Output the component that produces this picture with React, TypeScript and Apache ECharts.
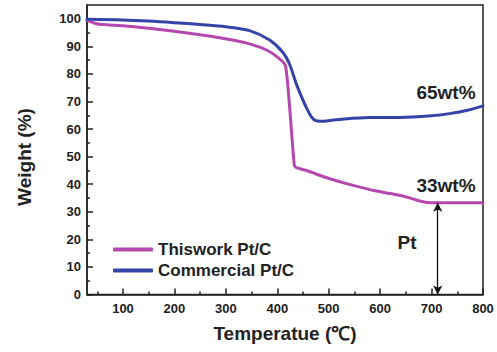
import React, { useEffect, useRef } from "react";
import * as echarts from "echarts";

const thisworkData: [number, number][] = [
  [30, 99.5], [45, 98.4], [60, 97.9], [100, 97.5], [150, 96.6], [200, 95.5],
  [250, 94.2], [313, 92.3], [346, 90.9], [380, 88.6], [405, 85.4], [416, 83.0],
  [424, 68], [433, 47], [437, 46], [460, 44.8], [490, 42.7], [520, 41.0],
  [553, 39.3], [590, 37.6], [620, 36.6], [650, 35.4], [670, 34.3], [690, 33.4],
  [720, 33.3], [800, 33.3],
];
const commercialData: [number, number][] = [
  [30, 99.8], [100, 99.6], [150, 99.2], [200, 98.6], [250, 97.9], [300, 97.1],
  [346, 95.7], [385, 92.3], [411, 87.8], [424, 83.5], [437, 76.4], [456, 68.0],
  [469, 63.8], [482, 62.8], [515, 63.4], [579, 64.2], [638, 64.2], [700, 64.8],
  [735, 65.6], [770, 66.8], [800, 68.4],
];
const xMajor = [100, 200, 300, 400, 500, 600, 700, 800];
const xMinor = [50, 150, 250, 350, 450, 550, 650, 750];
const yMajor = [0, 10, 20, 30, 40, 50, 60, 70, 80, 90, 100];
const yMinor = [5, 15, 25, 35, 45, 55, 65, 75, 85, 95];
const seriesNames = ["Thiswork Pt/C", "Commercial Pt/C"];
const ptArrowX = 712;
const ptResidue = 33.3;

const FONT = "'Liberation Sans', Arial, sans-serif";
const DARK = "#222";
const MAGENTA = "#B548AE";
const BLUE = "#3444A8";

export default function App() {
  const ref = useRef<HTMLDivElement>(null);
  useEffect(() => {
    if (!ref.current) return;
    const chart = echarts.init(ref.current, null, { renderer: "svg" });
    const axisCommon = {
      type: "value" as const,
      splitLine: { show: false },
    };
    chart.setOption({
      animation: false,
      backgroundColor: "#fff",
      textStyle: { fontFamily: FONT },
      grid: {
        left: 87, top: 5, right: 14, bottom: 57.5,
        show: true, borderColor: DARK, borderWidth: 1.5, backgroundColor: "transparent",
      },
      legend: {
        orient: "vertical",
        left: 108,
        top: 236,
        itemWidth: 40,
        itemHeight: 4,
        itemGap: 4,
        icon: "roundRect",
        data: seriesNames,
        textStyle: { fontFamily: FONT, fontSize: 17, fontWeight: "bold", color: DARK },
      },
      xAxis: [
        {
          ...axisCommon,
          min: 30, max: 800,
          axisLine: { show: true, lineStyle: { color: DARK, width: 1.5 } },
          axisTick: { show: true, inside: true, length: 6, customValues: xMajor, lineStyle: { color: DARK, width: 1.5 } },
          axisLabel: { customValues: xMajor, margin: 7, fontFamily: FONT, fontSize: 13, fontWeight: "bold", color: DARK },
        },
        {
          ...axisCommon,
          min: 30, max: 800, position: "bottom",
          axisLine: { show: false },
          axisTick: { show: true, inside: true, length: 3, customValues: xMinor, lineStyle: { color: DARK, width: 1.5 } },
          axisLabel: { show: false },
        },
      ],
      yAxis: [
        {
          ...axisCommon,
          min: 0, max: 105,
          axisLine: { show: true, lineStyle: { color: DARK, width: 1.5 } },
          axisTick: { show: true, inside: true, length: 6, customValues: yMajor, lineStyle: { color: DARK, width: 1.5 } },
          axisLabel: { customValues: yMajor, margin: 6, fontFamily: FONT, fontSize: 13, fontWeight: "bold", color: DARK },
        },
        {
          ...axisCommon,
          min: 0, max: 105, position: "left",
          axisLine: { show: false },
          axisTick: { show: true, inside: true, length: 3, customValues: yMinor, lineStyle: { color: DARK, width: 1.5 } },
          axisLabel: { show: false },
        },
      ],
      series: [
        {
          name: seriesNames[0],
          type: "line",
          data: thisworkData,
          xAxisIndex: 0, yAxisIndex: 0,
          showSymbol: false,
          smooth: 0.2,
          color: MAGENTA,
          lineStyle: { width: 3, color: MAGENTA, join: "round", cap: "round" },
          markLine: {
            silent: true,
            symbol: ["arrow", "arrow"],
            symbolSize: [7, 9],
            label: { show: false },
            lineStyle: { color: "#111", width: 1.3, type: "solid" },
            data: [[{ coord: [ptArrowX, 0] }, { coord: [ptArrowX, ptResidue] }]],
          },
        },
        {
          name: seriesNames[1],
          type: "line",
          data: commercialData,
          xAxisIndex: 0, yAxisIndex: 0,
          showSymbol: false,
          smooth: 0.3,
          color: BLUE,
          lineStyle: { width: 3, color: BLUE, join: "round", cap: "round" },
        },
      ],
      graphic: [
        {
          type: "text", x: 24, y: 157, rotation: Math.PI / 2,
          style: { text: "Weight (%)", font: `bold 19px ${FONT}`, fill: DARK, align: "center", verticalAlign: "middle" },
        },
        {
          type: "text", x: 285, y: 333,
          style: { text: "Temperatue (\u2103)", font: `bold 19px ${FONT}`, fill: DARK, align: "center", verticalAlign: "middle" },
        },
        {
          type: "text", x: 446, y: 92,
          style: { text: "65wt%", font: `bold 19px ${FONT}`, fill: DARK, align: "center", verticalAlign: "middle" },
        },
        {
          type: "text", x: 446, y: 185,
          style: { text: "33wt%", font: `bold 19px ${FONT}`, fill: DARK, align: "center", verticalAlign: "middle" },
        },
        {
          type: "text", x: 407, y: 242,
          style: { text: "Pt", font: `bold 19px ${FONT}`, fill: DARK, align: "center", verticalAlign: "middle" },
        },
      ],
    });
    return () => chart.dispose();
  }, []);
  return (
    <div
      ref={ref}
      style={{ position: "fixed", left: 0, top: 0, width: 497, height: 352 }}
    />
  );
}
